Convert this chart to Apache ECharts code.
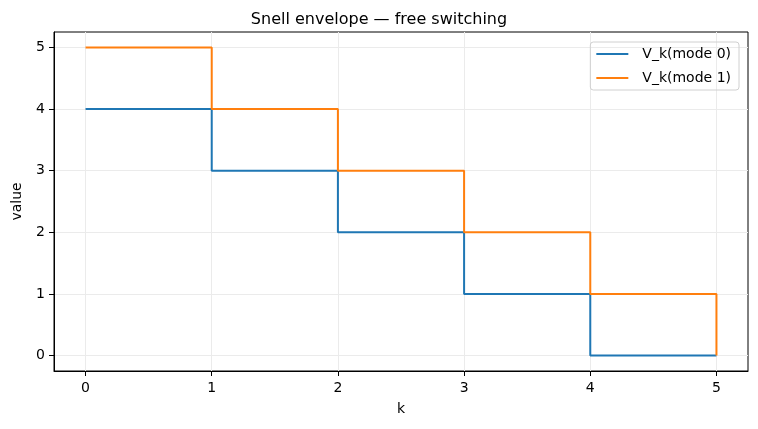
<!DOCTYPE html>
<html style="height: 100%">
<head>
    <meta charset="utf-8">
    <title>Snell envelope</title>
</head>
<body style="height: 100%; margin: 0; background: #fff">
<div id="container" style="width: 758px; height: 429px"></div>
<script type="text/javascript" src="https://cdn.jsdelivr.net/npm/echarts@6/dist/echarts.min.js"></script>
<script type="text/javascript">
    // step values at k = 0..5
    var kValues = [0, 1, 2, 3, 4, 5];
    var mode0 = [4, 3, 2, 1, 0, 0];
    var mode1 = [5, 4, 3, 2, 1, 0];
    var xTicks = [0, 1, 2, 3, 4, 5];
    var yTicks = [0, 1, 2, 3, 4, 5];

    function pairs(ys) {
        return kValues.map(function (k, i) { return [k, ys[i]]; });
    }

    var font = 'DejaVu Sans';
    var myChart = echarts.init(document.getElementById('container'));

    var option = {
        backgroundColor: '#fff',
        animation: false,
        title: {
            text: 'Snell envelope — free switching',
            left: 'center',
            top: 7,
            textStyle: { fontFamily: font, fontSize: 16, fontWeight: 'normal', color: '#000' }
        },
        legend: {
            orient: 'vertical',
            right: 19,
            top: 42,
            padding: [5, 8, 5, 6],
            itemGap: 10,
            itemWidth: 32,
            itemHeight: 2,
            icon: 'rect',
            borderColor: '#d0d0d0',
            borderWidth: 1,
            borderRadius: 3,
            textStyle: { fontFamily: font, fontSize: 14, color: '#000', padding: [0, 0, 0, 9] },
            data: ['V_k(mode 0)', 'V_k(mode 1)']
        },
        grid: {
            left: 54, right: 10, top: 32, bottom: 58,
            outerBoundsMode: 'none',
            show: true, borderColor: '#000', borderWidth: 1
        },
        xAxis: {
            type: 'value',
            min: -0.25, max: 5.25,
            name: 'k',
            nameLocation: 'middle',
            nameGap: 31,
            nameTextStyle: { fontFamily: font, fontSize: 14, color: '#000' },
            axisLine: { show: true, onZero: false, lineStyle: { color: '#000' } },
            axisTick: { show: true, inside: false, customValues: xTicks, length: 5, lineStyle: { color: '#000', width: 1 } },
            axisLabel: { customValues: xTicks, fontFamily: font, fontSize: 14, color: '#000', margin: 10 },
            splitLine: { show: true, customValues: xTicks, lineStyle: { color: '#ebebeb', width: 1 } }
        },
        yAxis: {
            type: 'value',
            min: -0.25, max: 5.25,
            name: 'value',
            nameLocation: 'middle',
            nameGap: 30,
            nameTextStyle: { fontFamily: font, fontSize: 14, color: '#000' },
            axisLine: { show: true, onZero: false, lineStyle: { color: '#000' } },
            axisTick: { show: true, inside: false, customValues: yTicks, length: 5, lineStyle: { color: '#000', width: 1 } },
            axisLabel: { customValues: yTicks, fontFamily: font, fontSize: 14, color: '#000', margin: 9 },
            splitLine: { show: true, customValues: yTicks, lineStyle: { color: '#ebebeb', width: 1 } }
        },
        series: [
            {
                name: 'V_k(mode 0)',
                type: 'line',
                step: 'end',
                showSymbol: false,
                symbol: 'none',
                color: '#1f77b4',
                lineStyle: { width: 2, color: '#1f77b4' },
                data: pairs(mode0)
            },
            {
                name: 'V_k(mode 1)',
                type: 'line',
                step: 'end',
                showSymbol: false,
                symbol: 'none',
                color: '#ff7f0e',
                lineStyle: { width: 2, color: '#ff7f0e' },
                data: pairs(mode1)
            }
        ]
    };

    if (option && typeof option === "object") {
        myChart.setOption(option, true);
    }
</script>
</body>
</html>
